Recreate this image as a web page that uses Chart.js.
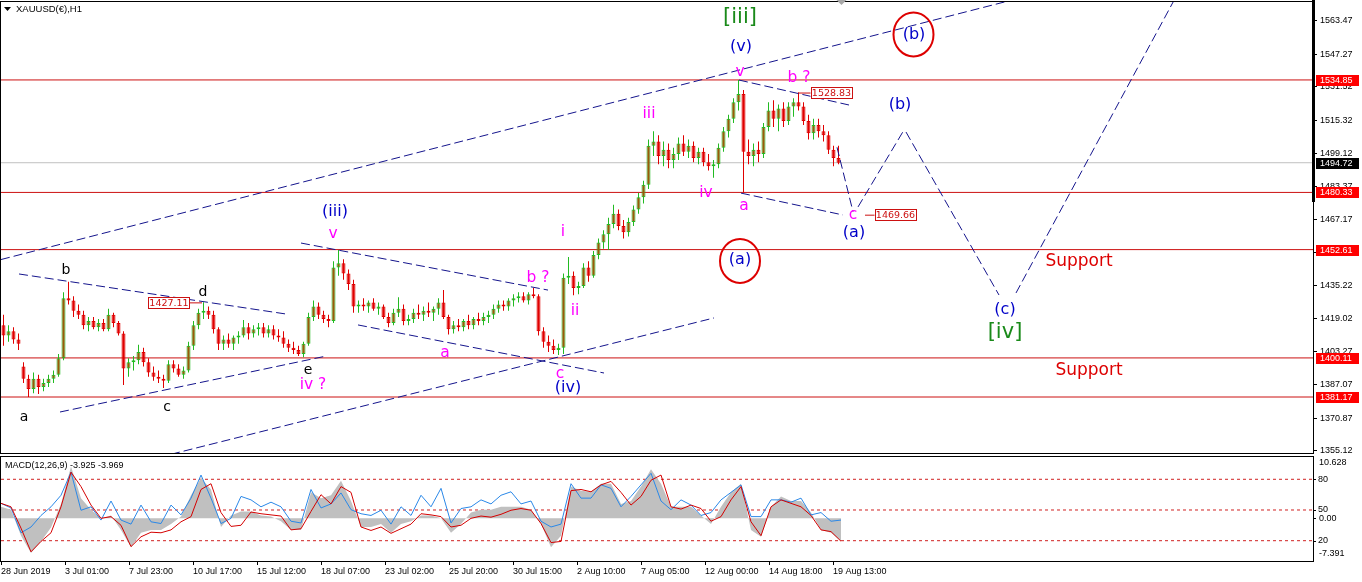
<!DOCTYPE html>
<html>
<head>
<meta charset="utf-8">
<title>XAUUSD H1</title>
<script src="https://cdn.jsdelivr.net/npm/chart.js@4.4.1/dist/chart.umd.min.js"></script>
<style>
html, body { margin: 0; padding: 0; background: #fff; }
#wrap { position: relative; width: 1362px; height: 582px; overflow: hidden; }
#main { position: absolute; left: 0; top: 0; }
#macd { position: absolute; left: 0; top: 455px; }
</style>
</head>
<body>
<div id="wrap">
  <canvas id="main" width="1362" height="455"></canvas>
  <canvas id="macd" width="1362" height="127"></canvas>
</div>
<script>
// ======
// data
// ======
// one candle = 5 hourly bars
var candleStep = 5;

var opens = [1416,1411,1413,1409,1396,1390,1385,1390,1386,1388,
  1390,1392,1400,1429,1428,1423,1421,1416,1418,1415,
  1417,1414,1421,1417,1412,1395,1398,1399,1403,1398,
  1393,1391,1390,1389,1397,1395,1392,1394,1406,1416,
  1422,1423,1421,1414,1407,1409,1407,1410,1411,1415,
  1412,1414,1415,1412,1414,1411,1410,1407,1405,1404,
  1402,1407,1420,1425,1421,1419,1418,1444,1446,1441,
  1436,1425,1426,1425,1427,1424,1425,1420,1417,1422,
  1424,1418,1419,1422,1421,1423,1422,1424,1427,1420,
  1414,1416,1415,1418,1416,1419,1418,1420,1421,1424,
  1426,1425,1428,1429,1430,1428,1431,1430,1413,1408,
  1406,1404,1405,1439,1440,1434,1435,1444,1440,1450,
  1456,1460,1465,1470,1464,1461,1466,1472,1478,1484,
  1503,1505,1498,1501,1496,1499,1504,1500,1503,1497,
  1500,1495,1493,1494,1502,1510,1516,1524,1528,1500,
  1498,1501,1499,1512,1520,1516,1521,1515,1522,1524,
  1522,1515,1509,1513,1510,1508,1501,1497];

var highs = [1421,1416,1415,1412,1398,1392,1393,1392,1390,1392,
  1394,1402,1432,1437,1430,1426,1423,1420,1420,1419,
  1419,1424,1422,1418,1413,1400,1401,1406.5,1405,1400,
  1396,1394,1392,1399,1399,1397,1396,1408,1418,1424,
  1427.11,1425,1423,1415,1411,1412,1411,1413,1418.5,1417,
  1416,1417,1417,1416,1416,1414,1413,1409,1408,1406,
  1408,1422,1428,1427,1423,1421,1447,1452.4,1448,1443,
  1438,1428,1429,1428,1429,1427,1426,1422,1424,1429.5,
  1426,1421,1424,1426,1425,1427,1425,1429,1433,1421,
  1418,1419,1419,1421,1420,1422,1422,1423,1426,1428,
  1428,1429,1431,1432,1432,1432,1434,1431,1415,1411,
  1409,1407,1441,1449,1442,1437,1446,1447,1452,1458,
  1462,1468,1474.3,1472,1467,1468,1474,1480,1486,1506,
  1510,1508,1505,1504,1502,1507,1508,1506,1505,1502,
  1502,1499,1496,1504,1512,1518,1526,1534.85,1530,1506,
  1504,1505,1514,1524,1525,1523,1524,1524,1526,1528.83,
  1524,1518,1516,1516,1513,1510,1503,1503];

var lows = [1406,1408,1407,1404,1388,1381.2,1383,1382.6,1384,1386,
  1388,1391,1399,1426,1420,1419,1414,1413,1414,1413,
  1413,1413,1415,1411,1387,1391,1394,1397,1396,1391,
  1389,1388,1385.5,1388,1393,1391,1390,1393,1404,1414,
  1419,1419,1412,1404,1404,1405,1404,1407,1410,1409,
  1410,1411,1410,1410,1409,1408,1405,1403,1402,1401,
  1400.5,1406,1418,1419,1417,1415,1417,1440,1438,1433,
  1422,1422,1423,1422,1423,1421,1419,1415,1416,1420,
  1416,1416,1417,1419,1418,1420,1418,1421,1419,1411.5,
  1412,1413,1413,1414,1414,1416,1416,1417,1419,1422,
  1423,1423,1425,1427,1427,1426,1429,1411,1405,1403,
  1402,1401.5,1402,1436,1430.5,1431,1434,1437,1439,1448,
  1453,1452.4,1463,1462,1458,1459,1464,1470,1475,1482,
  1498,1494,1493,1492,1492,1496,1498,1497,1495,1494,
  1493,1491,1487.4,1492,1500,1507,1514,1520,1480.3,1494,
  1493,1495,1497,1510,1512,1510,1512,1513,1517,1520,
  1513,1506,1506,1507,1505,1499,1493,1494];

var closes = [1411,1413,1409,1407,1390,1385,1390,1386,1388,1390,
  1392,1400,1429,1428,1423,1421,1416,1418,1415,1417,
  1414,1421,1417,1412,1395,1398,1399,1403,1398,1393,
  1391,1390,1389,1397,1395,1392,1394,1406,1416,1422,
  1423,1421,1414,1407,1409,1407,1410,1411,1415,1412,
  1414,1415,1412,1414,1411,1410,1407,1405,1404,1402,
  1407,1420,1425,1421,1419,1418,1444,1446,1441,1436,
  1425,1426,1425,1427,1424,1425,1420,1417,1422,1424,
  1418,1419,1422,1421,1423,1422,1424,1427,1420,1414,
  1416,1415,1418,1416,1419,1418,1420,1421,1424,1426,
  1425,1428,1429,1430,1428,1431,1430,1413,1408,1406,
  1404,1405,1439,1440,1434,1435,1444,1440,1450,1456,
  1460,1465,1470,1464,1461,1466,1472,1478,1484,1503,
  1505,1498,1501,1496,1499,1504,1500,1503,1497,1500,
  1495,1493,1494,1502,1510,1516,1524,1528,1500,1498,
  1501,1499,1512,1520,1516,1521,1515,1522,1524,1522,
  1515,1509,1513,1510,1508,1501,1497,1494.72];

// MACD panel, sampled every 10 bars
var macdStep = 10;
var macdHist = [2.0,1.5,-3.0,-6.0,-4.0,-1.6,2.5,9.0,3.5,1.5,
  0.0,0.5,-2.0,-5.0,-2.5,-2.0,-2.0,-1.0,0.3,4.0,
  7.0,5.0,-1.5,0.5,1.2,1.2,0.5,0.3,-0.5,-2.0,
  -2.0,4.5,3.5,4.0,6.5,3.0,-1.5,-1.5,-1.0,-2.5,
  -1.0,-0.5,0.5,0.5,0.0,-2.5,-1.0,1.0,1.5,1.5,
  2.0,2.0,2.0,1.5,-1.0,-5.0,-3.0,5.5,4.8,4.6,
  6.0,6.0,2.5,3.0,5.5,8.5,6.0,2.0,2.0,2.0,
  0.5,-1.0,2.0,4.5,6.0,-2.0,-3.2,2.0,3.8,3.0,
  3.0,1.0,-2.0,-2.5,-3.925];
var macdSignal = [2.6,2.0,-1.7,-5.8,-4.0,-2.5,2.0,8.0,5.5,2.3,
  0.0,0.3,-1.2,-4.9,-3.2,-2.4,-2.5,-2.0,-0.6,0.3,
  5.0,6.0,1.0,-1.4,-1.2,1.1,0.8,0.6,0.4,-2.0,
  -1.8,1.2,4.1,2.5,5.5,4.5,-1.5,-2.1,-1.5,-2.6,
  -1.8,-1.0,0.8,0.6,0.3,-1.5,-1.2,0.0,0.4,0.2,
  0.7,1.4,1.7,1.4,-0.9,-4.2,-4.0,4.8,5.0,4.6,
  5.8,6.4,4.5,2.3,3.8,6.6,7.5,2.0,1.6,2.3,
  1.7,-0.5,0.3,3.2,5.5,-0.6,-3.0,2.0,3.2,2.6,
  2.0,0.5,-2.0,-2.3,-3.969];
var macdBlue = [2.6,1.8,-2.5,-1.5,0.5,2.0,4.0,8.0,1.4,2.0,
  -0.3,3.0,-0.3,-1.0,2.3,-0.6,-0.9,2.3,0.6,3.5,
  7.5,3.5,-0.9,0.0,3.8,3.2,2.0,2.8,2.0,-0.5,
  -0.8,5.0,1.8,2.5,4.4,1.5,0.8,0.5,1.4,-1.0,
  2.0,0.5,4.0,2.0,5.2,-0.8,1.7,2.0,3.2,2.5,
  4.0,4.6,2.5,3.0,-0.5,-1.5,-1.0,6.0,3.5,3.5,
  5.8,5.2,2.0,3.8,5.8,7.8,3.0,1.5,3.2,2.3,
  0.5,1.0,3.2,4.5,5.8,0.3,0.3,3.2,3.2,2.8,
  3.5,0.6,1.0,-0.5,-0.3];
var macdLevels = [80, 50, 20];

// axis labels
var priceTicks = [1355.12, 1370.87, 1387.07, 1403.27, 1419.02, 1435.22, 1451.12,
  1467.17, 1483.37, 1499.12, 1515.32, 1531.52, 1547.27, 1563.47];
var timeLabels = ['28 Jun 2019', '3 Jul 01:00', '7 Jul 23:00', '10 Jul 17:00', '15 Jul 12:00',
  '18 Jul 07:00', '23 Jul 02:00', '25 Jul 20:00', '30 Jul 15:00', '2 Aug 10:00',
  '7 Aug 05:00', '12 Aug 00:00', '14 Aug 18:00', '19 Aug 13:00'];
var timeLabelEvery = 64;

// horizontal price levels
var redLevels = [1534.85, 1480.33, 1452.61, 1400.11, 1381.17];
var bidPrice = 1494.72;

// trend lines and projection, [bar, price] pairs
var channelLines = [
  [[0, 1447.8], [1020, 1574.7]],
  [[170, 1353.4], [713, 1419.5]],
  [[18, 1440.8], [285, 1421.4]],
  [[59, 1373.9], [325, 1401.0]],
  [[300, 1455.8], [547, 1433.0]],
  [[357, 1416.1], [603, 1392.8]],
  [[738, 1534.8], [848, 1522.7]],
  [[740, 1480.0], [842, 1469.4]]
];
var projectionLines = [
  [[836, 1502.2], [852, 1471.0]],
  [[857, 1473.3], [903, 1510.6]],
  [[905, 1509.6], [998, 1430.6]],
  [[1015, 1431.6], [1177, 1577.0]]
];

// wave labels [text, bar, price]
var blackLabels = [['a', 23, 1371.5], ['b', 65, 1442.7], ['c', 166, 1376.3], ['d', 202, 1432.1], ['e', 307, 1394.3]];
var pinkLabels = [['iv ?', 312, 1387.0], ['v', 332, 1460.2], ['a', 444, 1402.5], ['b ?', 537, 1438.9],
  ['c', 559, 1392.3], ['i', 562, 1461.1], ['ii', 574, 1422.9], ['iii', 648, 1518.3], ['iv', 705, 1480.0],
  ['v', 739, 1538.7], ['a', 743, 1473.7], ['b ?', 798, 1535.8], ['c', 852, 1469.4]];
var blueLabels = [['(iii)', 334, 1470.8], ['(iv)', 567, 1385.5], ['(v)', 740, 1550.8], ['(a)', 853, 1460.7],
  ['(b)', 899, 1522.7], ['(c)', 1004, 1423.3], ['(a)', 739, 1447.6], ['(b)', 913, 1556.6]];
var greenLabels = [['[iii]', 739, 1564.9], ['[iv]', 1004, 1412.2]];
var supportLabels = [['Support', 1078, 1446.6], ['Support', 1088, 1393.8]];
var circledPoints = [[739, 1447.1], [912.5, 1556.9]];
// boxed price notes [text, bar of box centre, price, bar where the leader ends]
var priceNotes = [['1427.11', 168, 1426.8, 201], ['1528.83', 830.5, 1528.5, 798], ['1469.66', 894.5, 1469.3, 864]];

// ======
// styles
// ======
var GREEN = '#22bb22';
var BROWN = '#9a5a08';
var RED = '#e00000';
var LINE_RED = '#cc1111';
var NAVY = '#14148c';
var uiFont = "'Liberation Sans', Arial, sans-serif";
var waveFont = "'DejaVu Sans', Verdana, sans-serif";

var candleX = opens.map(function(o, i) { return i * candleStep + candleStep / 2; });
var candleUp = closes.map(function(c, i) { return c >= opens[i]; });

function seg(points) {
  return points.map(function(p) { return {x: p[0], y: p[1]}; });
}
function flatLine(v, x0, x1) {
  return [{x: x0, y: v}, {x: x1, y: v}];
}

var mainSets = [
  {
    type: 'bar', order: 4, grouped: false, barThickness: 1, inflateAmount: 0, borderWidth: 0,
    data: candleX.map(function(x, i) { return {x: x, y: [lows[i], highs[i]]}; }),
    backgroundColor: candleUp.map(function(u) { return u ? GREEN : RED; })
  },
  {
    type: 'bar', order: 3, grouped: false, barThickness: 4, inflateAmount: 0,
    borderWidth: 1, borderSkipped: false,
    data: candleX.map(function(x, i) { return {x: x, y: [opens[i], closes[i]]}; }),
    backgroundColor: candleUp.map(function(u) { return u ? BROWN : RED; }),
    borderColor: candleUp.map(function(u) { return u ? GREEN : RED; })
  },
  {
    type: 'line', order: 11, data: flatLine(bidPrice, 0, 1312),
    borderColor: '#c0c0c0', borderWidth: 1, pointRadius: 0
  }
];
redLevels.forEach(function(v) {
  mainSets.push({type: 'line', order: 10, data: flatLine(v, 0, 1312),
    borderColor: LINE_RED, borderWidth: 1, pointRadius: 0});
});
channelLines.concat(projectionLines).forEach(function(l) {
  mainSets.push({type: 'line', order: 0, data: seg(l),
    borderColor: NAVY, borderWidth: 1, borderDash: [9, 4], pointRadius: 0});
});
priceNotes.forEach(function(n) {
  mainSets.push({type: 'line', order: 0, data: seg([[n[3], n[2]], [n[1], n[2]]]),
    borderColor: LINE_RED, borderWidth: 1, pointRadius: 0});
});

// ======
// drawing helpers
// ======
function labelGroup(ctx, x, y, list, color, size) {
  ctx.fillStyle = color;
  ctx.font = size + 'px ' + waveFont;
  ctx.textAlign = 'center';
  ctx.textBaseline = 'middle';
  list.forEach(function(l) {
    ctx.fillText(l[0], x.getPixelForValue(l[1]), y.getPixelForValue(l[2]));
  });
}

var mainDecor = {
  id: 'mainDecor',
  afterDatasetsDraw: function(chart) {
    var ctx = chart.ctx, x = chart.scales.x, y = chart.scales.y;
    ctx.save();
    // boxed notes
    priceNotes.forEach(function(n) {
      var cx = x.getPixelForValue(n[1]), cy = Math.round(y.getPixelForValue(n[2]));
      ctx.fillStyle = '#fff';
      ctx.fillRect(cx - 21, cy - 6, 42, 12);
      ctx.strokeStyle = LINE_RED;
      ctx.lineWidth = 1;
      ctx.strokeRect(Math.round(cx - 21) + 0.5, cy - 5.5, 41, 11);
      ctx.fillStyle = LINE_RED;
      ctx.font = '9.5px ' + waveFont;
      ctx.textAlign = 'center';
      ctx.textBaseline = 'middle';
      ctx.fillText(n[0], cx, cy + 0.5);
    });
    // red circles
    ctx.strokeStyle = '#dd0000';
    ctx.lineWidth = 2;
    circledPoints.forEach(function(c) {
      ctx.beginPath();
      ctx.ellipse(x.getPixelForValue(c[0]), y.getPixelForValue(c[1]), 20, 22, 0, 0, Math.PI * 2);
      ctx.stroke();
    });
    labelGroup(ctx, x, y, blackLabels, '#000', 14);
    labelGroup(ctx, x, y, pinkLabels, '#ff00ff', 15.5);
    labelGroup(ctx, x, y, blueLabels, '#0000c8', 16);
    labelGroup(ctx, x, y, greenLabels, '#1a8a1a', 21);
    labelGroup(ctx, x, y, supportLabels, '#dd0000', 17);
    ctx.restore();
  },
  afterDraw: function(chart) {
    var ctx = chart.ctx, a = chart.chartArea, x = chart.scales.x, y = chart.scales.y;
    ctx.save();
    // frame
    ctx.strokeStyle = '#000';
    ctx.lineWidth = 1;
    ctx.strokeRect(a.left - 0.5, a.top - 0.5, a.right - a.left + 1, a.bottom - a.top + 1);
    ctx.fillStyle = '#000';
    ctx.fillRect(a.right - 1, 0, 3, 202);
    // price tags on the axis
    function tag(v, bg) {
      var py = Math.round(y.getPixelForValue(v));
      ctx.fillStyle = bg;
      ctx.fillRect(a.right + 3, py - 5, 43, 11);
      ctx.fillStyle = '#fff';
      ctx.font = '9px ' + uiFont;
      ctx.textAlign = 'left';
      ctx.textBaseline = 'middle';
      ctx.fillText(v.toFixed(2), a.right + 7, py + 0.5);
    }
    redLevels.forEach(function(v) { tag(v, '#ff0000'); });
    tag(bidPrice, '#000');
    // chart shift marker
    var sx = x.getPixelForValue(candleX[candleX.length - 1] + 3);
    ctx.fillStyle = '#a8a8a8';
    ctx.beginPath();
    ctx.moveTo(sx - 5, 0); ctx.lineTo(sx + 5, 0); ctx.lineTo(sx, 5); ctx.closePath();
    ctx.fill();
    // title
    ctx.fillStyle = '#000';
    ctx.beginPath();
    ctx.moveTo(4, 7); ctx.lineTo(11, 7); ctx.lineTo(7.5, 11); ctx.closePath();
    ctx.fill();
    ctx.font = '9.5px ' + uiFont;
    ctx.textAlign = 'left';
    ctx.textBaseline = 'middle';
    ctx.fillText('XAUUSD(€),H1', 16, 9.5);
    ctx.restore();
  }
};

new Chart(document.getElementById('main'), {
  type: 'bar',
  data: { datasets: mainSets },
  options: {
    responsive: false,
    animation: false,
    devicePixelRatio: 1,
    events: [],
    layout: { padding: { left: 1, top: 2, right: 0, bottom: 2 } },
    plugins: { legend: { display: false }, tooltip: { enabled: false } },
    scales: {
      x: { type: 'linear', min: 0, max: 1312, offset: false, display: false },
      y: {
        position: 'right', min: 1354.03, max: 1572.63,
        grid: { drawOnChartArea: false, drawTicks: true, tickLength: 4, color: '#000' },
        border: { display: false },
        ticks: { padding: 3, autoSkip: false, color: '#000', font: { family: uiFont, size: 9 },
          callback: function(v) { return Number(v).toFixed(2); } },
        afterBuildTicks: function(s) { s.ticks = priceTicks.map(function(v) { return {value: v}; }); },
        afterFit: function(s) { s.width = 49; s.paddingTop = 0; s.paddingBottom = 0; }
      }
    }
  },
  plugins: [mainDecor]
});

// ======
// MACD panel
// ======
var macdX = macdHist.map(function(v, i) { return i * macdStep; });
function xy(vals) { return vals.map(function(v, i) { return {x: macdX[i], y: v}; }); }

var macdSets = [
  { label: 'MACD', order: 3, data: xy(macdHist), yAxisID: 'y', fill: 'origin',
    backgroundColor: '#c0c0c0', borderWidth: 0, pointRadius: 0 },
  { label: 'blue', order: 2, data: xy(macdBlue), yAxisID: 'y',
    borderColor: '#2a88e8', borderWidth: 1, pointRadius: 0 },
  { label: 'signal', order: 1, data: xy(macdSignal), yAxisID: 'y',
    borderColor: '#d40000', borderWidth: 1, pointRadius: 0 }
];
macdLevels.forEach(function(v) {
  macdSets.push({ order: 5, data: flatLine(v, 0, 1312), yAxisID: 'yl',
    borderColor: '#d02020', borderWidth: 1, borderDash: [3, 3], pointRadius: 0 });
});

var macdDecor = {
  id: 'macdDecor',
  afterDraw: function(chart) {
    var ctx = chart.ctx, a = chart.chartArea, y = chart.scales.y, yl = chart.scales.yl;
    ctx.save();
    ctx.strokeStyle = '#000';
    ctx.lineWidth = 1;
    ctx.strokeRect(a.left - 0.5, a.top - 0.5, a.right - a.left + 1, a.bottom - a.top + 1);
    ctx.fillStyle = '#000';
    ctx.font = '9px ' + uiFont;
    ctx.textAlign = 'left';
    ctx.textBaseline = 'middle';
    var last = macdHist.length - 1;
    ctx.fillText('MACD(12,26,9) ' + macdHist[last].toFixed(3) + ' ' + macdSignal[last].toFixed(3), 5, 11);
    var lx = a.right + 5;
    ctx.fillText(y.max.toFixed(3), lx + 1, y.getPixelForValue(y.max) + 6);
    ctx.fillText('0.00', lx + 1, y.getPixelForValue(0));
    ctx.fillText(y.min.toFixed(3), lx + 1, y.getPixelForValue(y.min) - 7);
    ctx.fillRect(a.right + 1, Math.round(y.getPixelForValue(0)), 2, 1);
    macdLevels.forEach(function(v) {
      var py = yl.getPixelForValue(v);
      ctx.fillText(String(v), lx, py);
      ctx.fillRect(a.right + 1, Math.round(py), 2, 1);
    });
    ctx.restore();
  }
};

new Chart(document.getElementById('macd'), {
  type: 'line',
  data: { datasets: macdSets },
  options: {
    responsive: false,
    animation: false,
    devicePixelRatio: 1,
    events: [],
    layout: { padding: { left: 1, top: 2, right: 0, bottom: 0 } },
    plugins: { legend: { display: false }, tooltip: { enabled: false } },
    scales: {
      x: {
        type: 'linear', min: 0, max: 1312, offset: false,
        grid: { drawOnChartArea: false, drawTicks: true, tickLength: 4, color: '#000' },
        border: { display: false },
        ticks: { align: 'start', padding: 1, autoSkip: false, maxRotation: 0, color: '#000',
          font: { family: uiFont, size: 9 },
          callback: function(v, i) { return timeLabels[i]; } },
        afterBuildTicks: function(s) {
          s.ticks = timeLabels.map(function(t, i) { return {value: i * timeLabelEvery}; });
        },
        afterFit: function(s) { s.height = 21; s.paddingLeft = 0; s.paddingRight = 0; }
      },
      y: {
        position: 'right', min: -7.391, max: 10.628,
        grid: { display: false },
        border: { display: false },
        ticks: { display: false },
        afterFit: function(s) { s.width = 49; s.paddingTop = 0; s.paddingBottom = 0; }
      },
      yl: { display: false, position: 'left', min: 0.16, max: 101.77 }
    }
  },
  plugins: [macdDecor]
});
</script>
</body>
</html>
